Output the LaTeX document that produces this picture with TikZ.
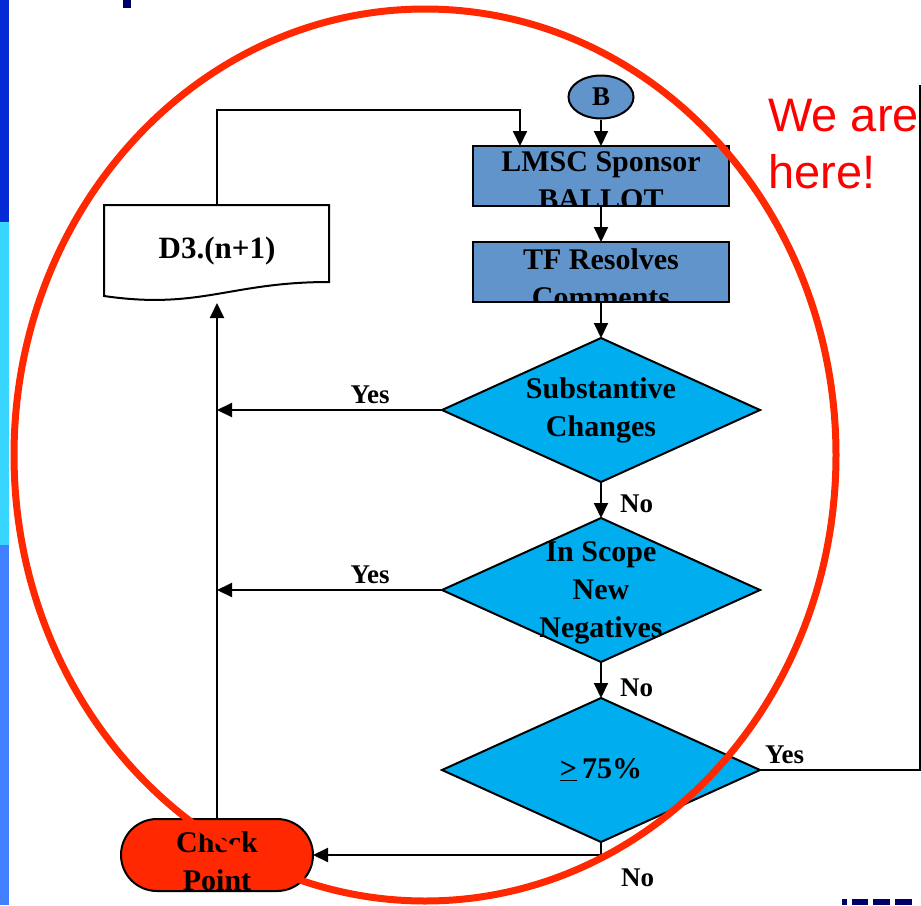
\documentclass[tikz,border=0pt]{standalone}
\usepackage{fontspec}
\setmainfont{Liberation Serif}
\newfontfamily\arialfont{Liberation Sans}
\usetikzlibrary{arrows,arrows.meta,shapes,positioning,calc}

\definecolor{boxblue}{RGB}{97,148,203}
\definecolor{decblue}{RGB}{0,174,239}
\definecolor{ringred}{RGB}{255,40,0}
\definecolor{herered}{RGB}{255,0,0}
\definecolor{bardark}{RGB}{4,42,214}
\definecolor{barcyan}{RGB}{56,214,255}
\definecolor{barblue}{RGB}{64,128,255}
\definecolor{navy}{RGB}{0,0,102}

\begin{document}
\begin{tikzpicture}[x=1pt,y=-1pt,
	txt/.style={font=\fontsize{30}{38}\selectfont\bfseries, align=center, inner sep=0, draw=none, fill=none},
	lbl/.style={font=\fontsize{27}{32}\selectfont\bfseries, inner sep=0},
	proc/.style={rectangle, draw, line width=2pt, fill=boxblue, minimum width=256pt, minimum height=60pt, outer sep=0},
	dec/.style={diamond, draw, line width=2pt, fill=decblue, minimum width=318pt, minimum height=144pt, inner sep=0, outer sep=0},
	arr/.style={-{Triangle[length=15pt,width=14pt]}, line width=2pt}]
		\useasboundingbox[fill=white] (0,0) rectangle (921,905);
		% slide decoration
		\fill[bardark] (0,0) rectangle (9,222);
		\fill[barcyan] (0,222) rectangle (9,545);
		\fill[barblue] (0,545) rectangle (9,905);
		\fill[navy] (123,0) rectangle (131,8);
		\foreach \a/\b in {842/847, 852/868, 873/890, 895/912}
			\fill[navy] (\a,899) rectangle (\b,905);

		% flow
		\node[ellipse, draw, line width=2pt, fill=boxblue, minimum width=65pt, minimum height=43pt, inner sep=0, font=\fontsize{27}{32}\selectfont\bfseries] (b) at (601,97) {B};
		\node[proc, path picture={\node[txt] (lmsct) at ([yshift=-5pt]path picture bounding box.center) {LMSC Sponsor\\BALLOT};}] (lmsc) at (601,176) {};
		\node[proc, path picture={\node[txt] (tft) at ([yshift=-6pt]path picture bounding box.center) {TF Resolves\\Comments};}] (tf) at (601,272) {};
		\node[dec] (sub) at (601,410) {};
		\node[txt] (subt) at (601,410) {Substantive\\Changes};
		\node[dec] (scope) at (601,590) {};
		\node[txt] (scopet) at (601,593) {In Scope\\New\\Negatives};
		\node[dec] (ge) at (601,770) {};
		\node[txt] (get) at (601,770) {\underline{>}\,75\%};
		\node[rectangle, draw, line width=2pt, fill=ringred, rounded corners=36pt, minimum width=192pt, minimum height=72pt, outer sep=0, path picture={\node[txt] (chkt) at ([yshift=-6pt]path picture bounding box.center) {Check\\Point};}] (chk) at (217,855) {};

		% document D3.(n+1)
		\draw[line width=2pt] (104,205) -- (329,205) -- (329,282) .. controls (230,282) and (200,310) .. (104,296) -- cycle;
		\node[txt, font=\fontsize{31}{38}\selectfont\bfseries] (doc) at (217,251) {D3.(n+1)};
		\coordinate (doctop) at (217,205);
		\coordinate (docin) at (217,303);
		\coordinate (lmscin) at ([xshift=-81pt]lmsc.north);
		\coordinate (j1) at (217,410);
		\coordinate (j2) at (217,590);
		\coordinate (farR) at (920,85);

		\draw[arr] (b) -- (lmsc);
		\draw[arr] (doctop) -- ++(0,-95) -| (lmscin);
		\draw[arr] (lmsc) -- (tf);
		\draw[arr] (tf) -- (sub);
		\draw[arr] (sub) -- (scope);
		\draw[arr] (scope) -- (ge);
		\draw[arr] (sub.west) -- (j1);
		\draw[arr] (scope.west) -- (j2);
		\draw[arr] (ge.south) |- (chk.east);
		\draw[arr] (chk.north) -- (docin);
		\draw[line width=2pt] (ge.east) -| (farR);

		\node[lbl, anchor=base] (yes1) at (370,403) {Yes};
		\node[lbl, anchor=base] (yes2) at (370,583) {Yes};
		\node[lbl, anchor=base west] (yes3) at (765,763) {Yes};
		\node[lbl, anchor=base west] (no1) at (620,512) {No};
		\node[lbl, anchor=base west] (no2) at (620,696) {No};
		\node[lbl, anchor=base west] (no3) at (621,886) {No};

		\node[font=\arialfont\fontsize{47}{57}\selectfont, text=herered, align=left, anchor=north west, inner sep=0] (here) at (768,99) {We are\\here!};

		% the ring
		\draw[ringred, line width=7pt] (425,455) ellipse [x radius=411pt, y radius=446pt];
	\end{tikzpicture}
\end{document}
